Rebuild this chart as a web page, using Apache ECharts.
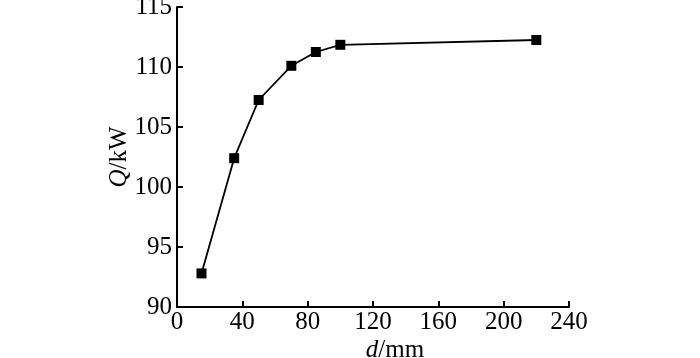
<!DOCTYPE html>
<html>
<head>
<meta charset="utf-8">
<script src="https://cdn.jsdelivr.net/npm/echarts@6/dist/echarts.min.js"></script>
<style>html,body{margin:0;padding:0;background:#fff;}#c{width:700px;height:358px;}</style>
</head>
<body>
<div id="c"></div>
<script>
var dValues = [15, 35, 50, 70, 85, 100, 220];
var qValues = [92.8, 102.4, 107.25, 110.1, 111.25, 111.85, 112.25];
var xTicks = [0, 40, 80, 120, 160, 200, 240];
var yTicks = [90, 95, 100, 105, 110, 115];

var chart = echarts.init(document.getElementById('c'));
var font = 'Liberation Serif';
var fs = 25;
var axisCommon = {
  axisLine: { show: true, lineStyle: { color: '#000', width: 2 } },
  axisTick: { show: true, inside: true, length: 6, lineStyle: { color: '#000', width: 2 } },
  splitLine: { show: false },
  axisLabel: { color: '#000', fontFamily: font, fontSize: fs }
};
chart.setOption({
  animation: false,
  backgroundColor: '#fff',
  grid: { left: 177, right: 131, top: 7, bottom: 51, containLabel: false, outerBoundsMode: 'none' },
  xAxis: Object.assign({}, axisCommon, {
    type: 'value', min: xTicks[0], max: xTicks[xTicks.length - 1], interval: 40,
    axisLabel: Object.assign({}, axisCommon.axisLabel, { margin: 3 }),
    name: '{i|d}/mm', nameLocation: 'middle', nameGap: 31, nameMoveOverlap: false,
    nameTextStyle: { color: '#000', fontFamily: font, fontSize: fs, padding: [0, 0, 0, 44],
      rich: { i: { fontStyle: 'italic', fontFamily: font, fontSize: fs, color: '#000' } } }
  }),
  yAxis: Object.assign({}, axisCommon, {
    type: 'value', min: yTicks[0], max: yTicks[yTicks.length - 1], interval: 5,
    axisLabel: Object.assign({}, axisCommon.axisLabel, { margin: 5 }),
    name: '{i|Q}/kW', nameLocation: 'middle', nameGap: 45, nameMoveOverlap: false,
    nameTextStyle: { color: '#000', fontFamily: font, fontSize: fs,
      rich: { i: { fontStyle: 'italic', fontFamily: font, fontSize: fs, color: '#000' } } }
  }),
  series: [{
    type: 'line',
    data: dValues.map(function (d, i) { return [d, qValues[i]]; }),
    symbol: 'rect', symbolSize: 10,
    itemStyle: { color: '#000' },
    lineStyle: { color: '#000', width: 1.8 }
  }]
});
</script>
</body>
</html>
